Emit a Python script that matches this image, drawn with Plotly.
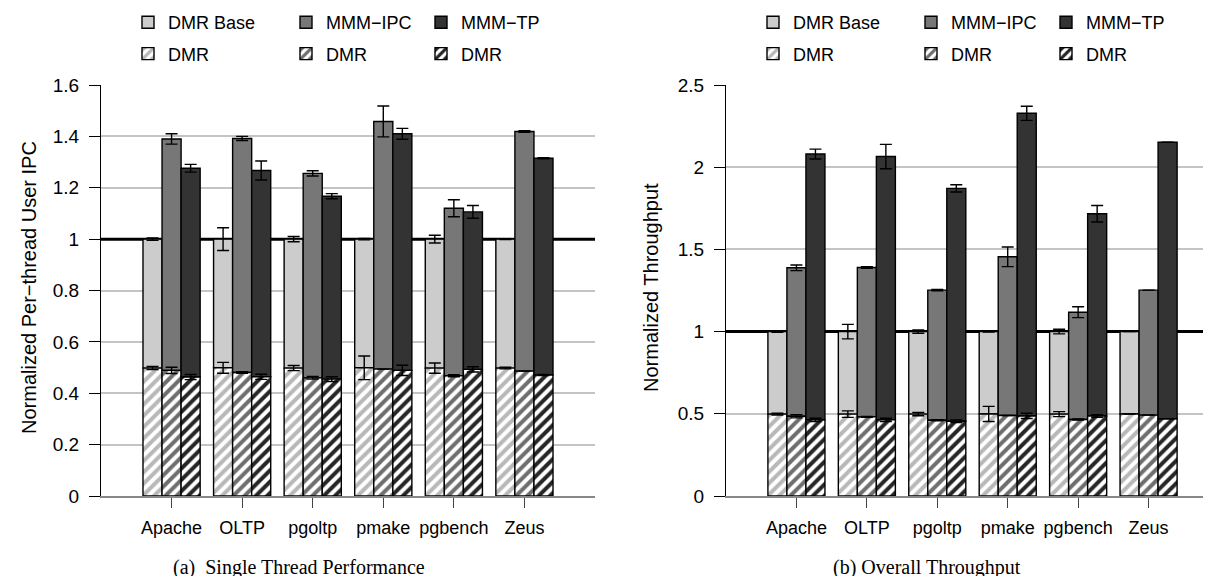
import plotly.graph_objects as go

# ---------------- data ----------------
CATEGORIES = ["Apache", "OLTP", "pgoltp", "pmake", "pgbench", "Zeus"]
SERIES = ["DMR Base", "MMM\u2212IPC", "MMM\u2212TP"]
HATCH_LABEL = "DMR"

# (a) Single thread performance: normalized per-thread user IPC
ipc_total_base = [1.000, 1.000, 1.000, 1.000, 1.000, 1.000]
ipc_total_base_err = [0.005, 0.044, 0.010, 0.003, 0.015, 0.002]
ipc_total_mmmipc = [1.390, 1.392, 1.256, 1.458, 1.120, 1.419]
ipc_total_mmmipc_err = [0.020, 0.008, 0.010, 0.060, 0.033, 0.003]
ipc_total_mmmtp = [1.276, 1.267, 1.167, 1.410, 1.106, 1.315]
ipc_total_mmmtp_err = [0.015, 0.037, 0.010, 0.021, 0.025, 0.002]
ipc_dmr_base = [0.498, 0.499, 0.498, 0.499, 0.498, 0.498]
ipc_dmr_base_err = [0.006, 0.021, 0.010, 0.046, 0.020, 0.003]
ipc_dmr_mmmipc = [0.489, 0.481, 0.460, 0.494, 0.468, 0.486]
ipc_dmr_mmmipc_err = [0.012, 0.003, 0.005, 0.000, 0.004, 0.000]
ipc_dmr_mmmtp = [0.463, 0.464, 0.455, 0.489, 0.493, 0.471]
ipc_dmr_mmmtp_err = [0.010, 0.010, 0.009, 0.020, 0.010, 0.002]

# (b) Overall throughput: normalized throughput
tp_total_base = [1.000, 1.000, 1.000, 1.000, 1.000, 1.000]
tp_total_base_err = [0.004, 0.044, 0.010, 0.003, 0.014, 0.000]
tp_total_mmmipc = [1.388, 1.390, 1.252, 1.455, 1.118, 1.252]
tp_total_mmmipc_err = [0.017, 0.005, 0.004, 0.060, 0.033, 0.000]
tp_total_mmmtp = [2.080, 2.065, 1.871, 2.328, 1.717, 2.152]
tp_total_mmmtp_err = [0.030, 0.074, 0.022, 0.043, 0.050, 0.000]
tp_dmr_base = [0.498, 0.498, 0.498, 0.499, 0.498, 0.499]
tp_dmr_base_err = [0.005, 0.020, 0.010, 0.046, 0.015, 0.000]
tp_dmr_mmmipc = [0.485, 0.481, 0.461, 0.490, 0.465, 0.492]
tp_dmr_mmmipc_err = [0.010, 0.003, 0.003, 0.000, 0.003, 0.000]
tp_dmr_mmmtp = [0.463, 0.463, 0.455, 0.487, 0.487, 0.469]
tp_dmr_mmmtp_err = [0.010, 0.010, 0.008, 0.016, 0.008, 0.000]

REFERENCE_LEVEL = 1.0

Y_TITLES = ["Normalized Per\u2212thread User IPC", "Normalized Throughput"]
CAPTIONS = ["(a)  Single Thread Performance", "(b) Overall Throughput"]

# ---------------- style ----------------
W, H = 1211, 576
COLORS = ["#cccccc", "#777777", "#333333"]
HATCH_COLORS = ["#b8b8b8", "#6e6e6e", "#262626"]
BAR_OFFSETS = [-0.27, 0.0, 0.27]
BAR_WIDTH = 0.27
X_RANGE = [-1, 6]
SANS = "Liberation Sans, Arial, sans-serif"
SERIF = "Liberation Serif, Times New Roman, serif"

panels = [
    dict(xa="x", ya="y", xd=[93, 587], yrange=[0, 1.6], dtick=0.2,
         totals=[ipc_total_base, ipc_total_mmmipc, ipc_total_mmmtp],
         totals_err=[ipc_total_base_err, ipc_total_mmmipc_err, ipc_total_mmmtp_err],
         dmr=[ipc_dmr_base, ipc_dmr_mmmipc, ipc_dmr_mmmtp],
         dmr_err=[ipc_dmr_base_err, ipc_dmr_mmmipc_err, ipc_dmr_mmmtp_err],
         legends=["legend", "legend2", "legend3"], leg_x=[120, 278, 413],
         title_x=21, caption_x=291),
    dict(xa="x2", ya="y2", xd=[718, 1211], yrange=[0, 2.5], dtick=0.5,
         totals=[tp_total_base, tp_total_mmmipc, tp_total_mmmtp],
         totals_err=[tp_total_base_err, tp_total_mmmipc_err, tp_total_mmmtp_err],
         dmr=[tp_dmr_base, tp_dmr_mmmipc, tp_dmr_mmmtp],
         dmr_err=[tp_dmr_base_err, tp_dmr_mmmipc_err, tp_dmr_mmmtp_err],
         legends=["legend4", "legend5", "legend6"], leg_x=[745, 903, 1038],
         title_x=643, caption_x=919),
]

fig = go.Figure()
n = len(CATEGORIES)
for pi, p in enumerate(panels):
    for s in range(3):
        xs = [i + BAR_OFFSETS[s] for i in range(n)]
        tot = p["totals"][s]
        dmr = p["dmr"][s]
        fig.add_trace(go.Bar(
            x=xs, y=[t - d for t, d in zip(tot, dmr)], base=dmr, width=BAR_WIDTH,
            marker=dict(color=COLORS[s], line=dict(color="black", width=1.4)),
            name=SERIES[s], legend=p["legends"][s], legendrank=1,
            legendgroup=f"p{pi}s{s}solid", uid=f"solid{pi}{s}",
            xaxis=p["xa"], yaxis=p["ya"], hoverinfo="skip"))
        fig.add_trace(go.Bar(
            x=xs, y=dmr, width=BAR_WIDTH,
            marker=dict(color="white", line=dict(color="black", width=1.4),
                        pattern=dict(shape="/", fgcolor=HATCH_COLORS[s], bgcolor="white",
                                     fgopacity=1, size=8, solidity=0.5,
                                     fillmode="replace")),
            name=HATCH_LABEL, legend=p["legends"][s], legendrank=2,
            legendgroup=f"p{pi}s{s}hatch", uid=f"hatch{pi}{s}",
            xaxis=p["xa"], yaxis=p["ya"], hoverinfo="skip"))
    for s in range(3):
        xs = [i + BAR_OFFSETS[s] for i in range(n)]
        for vals, errs in ((p["totals"][s], p["totals_err"][s]), (p["dmr"][s], p["dmr_err"][s])):
            fig.add_trace(go.Scatter(
                x=xs, y=vals, mode="markers",
                marker=dict(size=1, color="rgba(0,0,0,0)"),
                error_y=dict(type="data", array=errs, visible=True,
                             color="black", thickness=1.4, width=6),
                showlegend=False, hoverinfo="skip",
                xaxis=p["xa"], yaxis=p["ya"]))

layout = dict(
    width=W, height=H, margin=dict(l=0, r=0, t=0, b=0, autoexpand=False),
    barmode="overlay", plot_bgcolor="white", paper_bgcolor="white",
    font=dict(family=SANS, color="black", size=16),
    shapes=[], annotations=[],
)
ydom = [(H - 488) / H, (H - 77) / H]
for pi, p in enumerate(panels):
    sfx = "" if pi == 0 else str(pi + 1)
    layout["xaxis" + sfx] = dict(
        domain=[p["xd"][0] / W, p["xd"][1] / W], range=X_RANGE,
        tickmode="array", tickvals=list(range(n)), ticktext=CATEGORIES,
        ticks="outside", ticklen=10, tickcolor="#444", tickwidth=1,
        showline=True, linecolor="#888", linewidth=1.5,
        showgrid=False, zeroline=False, tickfont=dict(size=18),
        ticklabelstandoff=5, anchor="y" + sfx, fixedrange=True)
    layout["yaxis" + sfx] = dict(
        domain=ydom, range=p["yrange"], tick0=0, dtick=p["dtick"],
        ticks="outside", ticklen=11, tickcolor="black", tickwidth=1,
        showline=True, linecolor="black", linewidth=1,
        showgrid=True, gridcolor="#c4c4c4", gridwidth=1.5, zeroline=False,
        tickfont=dict(size=19), ticklabelstandoff=6,
        anchor="x" + sfx, fixedrange=True)
    layout["shapes"].append(dict(
        type="line", xref="x" + sfx, x0=X_RANGE[0], x1=X_RANGE[1],
        yref="y" + sfx, y0=REFERENCE_LEVEL, y1=REFERENCE_LEVEL,
        line=dict(color="black", width=3), layer="between"))
    layout["annotations"].append(dict(
        text=Y_TITLES[pi], textangle=-90, showarrow=False,
        xref="paper", yref="paper", x=p["title_x"] / W, y=1 - 280 / H,
        xanchor="center", yanchor="middle", font=dict(size=20, family=SANS)))
    layout["annotations"].append(dict(
        text=CAPTIONS[pi], showarrow=False,
        xref="paper", yref="paper", x=p["caption_x"] / W, y=1 - 559 / H,
        xanchor="center", yanchor="middle", font=dict(size=20, family=SERIF)))
    for li, lg in enumerate(p["legends"]):
        layout[lg] = dict(
            x=p["leg_x"][li] / W, y=1.0 + 4 / H, xanchor="left", yanchor="top",
            orientation="v", bgcolor="rgba(0,0,0,0)", borderwidth=0,
            tracegroupgap=5, font=dict(size=18, family=SANS),
            itemclick=False, itemdoubleclick=False)

fig.update_layout(**layout)
fig.write_html("out.html")
